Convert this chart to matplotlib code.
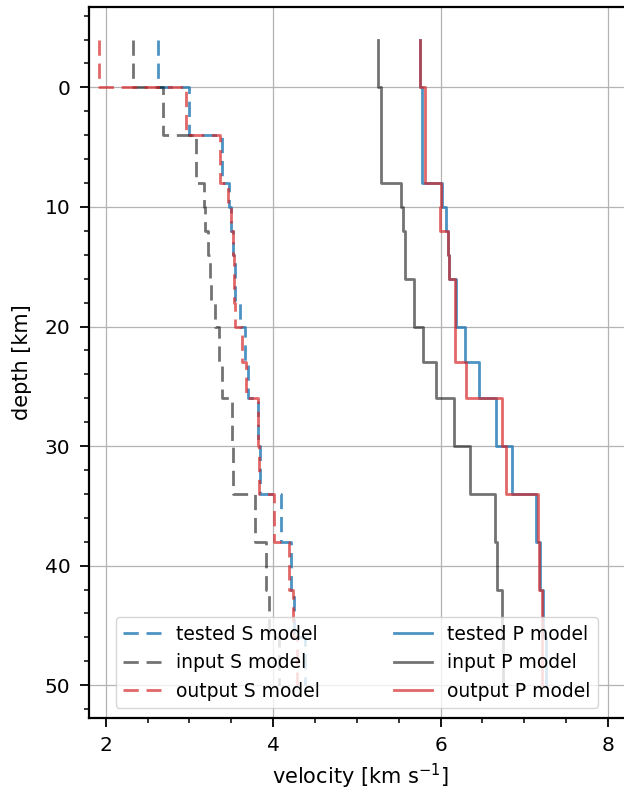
import numpy as np
import matplotlib
matplotlib.use("Agg")
import matplotlib.pyplot as plt
from matplotlib.ticker import MultipleLocator

# layer tops [km], last layer ends at depth_bottom
depth_top = [-4, 0, 4, 8, 10, 12, 14, 16, 18, 20, 23, 26, 30, 34, 38, 42, 46]
depth_bottom = 50

# S velocities [km/s]
vs_tested = [2.62, 2.99, 3.39, 3.47, 3.50, 3.52, 3.54, 3.54, 3.60, 3.66, 3.70, 3.82, 3.84, 4.09, 4.21, 4.25, 4.38]
vs_input = [2.32, 2.69, 3.08, 3.17, 3.19, 3.22, 3.24, 3.26, 3.31, 3.35, 3.39, 3.51, 3.52, 3.78, 3.92, 3.95, 4.07]
vs_output = [1.92, 2.96, 3.36, 3.46, 3.50, 3.52, 3.53, 3.53, 3.55, 3.63, 3.68, 3.82, 3.83, 4.01, 4.19, 4.24, 4.28]

# P velocities [km/s]
vp_tested = [5.75, 5.78, 5.78, 6.02, 6.06, 6.09, 6.10, 6.18, 6.18, 6.29, 6.46, 6.66, 6.85, 7.14, 7.19, 7.23, 7.26]
vp_input = [5.25, 5.29, 5.29, 5.53, 5.55, 5.58, 5.58, 5.68, 5.68, 5.79, 5.95, 6.16, 6.35, 6.65, 6.68, 6.74, 6.75]
vp_output = [5.76, 5.82, 5.82, 6.00, 5.99, 6.09, 6.10, 6.17, 6.17, 6.17, 6.31, 6.73, 6.78, 7.16, 7.18, 7.21, 7.21]


def profil(vel):
    # vertical step profile: each layer as a vertical segment
    z = np.array(depth_top + [depth_bottom], dtype=float)
    zz = np.repeat(z, 2)[1:-1]
    vv = np.repeat(np.array(vel, dtype=float), 2)
    return vv, zz


plt.rcParams["xtick.labelsize"] = 14.5
plt.rcParams["ytick.labelsize"] = 14.5

fig = plt.figure(figsize=(6.24, 7.96), dpi=100)
ax = fig.add_axes([89 / 624, 1 - 717.5 / 796, 544 / 624, 710.2 / 796])

azul = "#1f77b4"
rojo = "#d62728"
lw = 2.0
dash = (5.5, 2.8)

modelos = [
    (vs_tested, azul, 0.8, "--", "tested S model"),
    (vs_input, "k", 0.55, "--", "input S model"),
    (vs_output, rojo, 0.7, "--", "output S model"),
    (vp_tested, azul, 0.8, "-", "tested P model"),
    (vp_input, "k", 0.55, "-", "input P model"),
    (vp_output, rojo, 0.7, "-", "output P model"),
]
for vel, col, al, ls, lab in modelos:
    vv, zz = profil(vel)
    if ls == "--":
        ax.plot(vv, zz, color=col, alpha=al, lw=lw, ls=ls, dashes=dash, label=lab)
    else:
        ax.plot(vv, zz, color=col, alpha=al, lw=lw, ls=ls, label=lab)

ax.set_xlim(1.8, 8.3)
ax.set_ylim(52.7, -6.7)

ax.xaxis.set_major_locator(MultipleLocator(2))
ax.xaxis.set_minor_locator(MultipleLocator(0.5))
ax.yaxis.set_major_locator(MultipleLocator(10))
ax.yaxis.set_minor_locator(MultipleLocator(2))

ax.tick_params(which="major", direction="out", length=6.5, width=1.3, pad=7)
ax.tick_params(which="minor", direction="out", length=3.5, width=1.1)
for s in ax.spines.values():
    s.set_linewidth(1.6)

ax.grid(True, which="major", color="0.7", lw=0.9)
ax.set_axisbelow(True)

ax.set_xlabel(r"velocity [km s$^{-1}$]", fontsize=15, labelpad=5)
ax.set_ylabel("depth [km]", fontsize=15, labelpad=9)

ax.legend(loc="lower center", ncol=2, fontsize=13.5, columnspacing=4.0,
          bbox_to_anchor=(0.492, 0.0))

fig.savefig("out.png", dpi=100)
